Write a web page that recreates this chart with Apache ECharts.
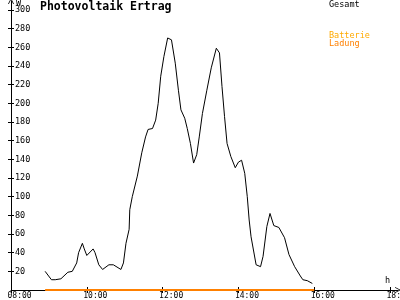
<!DOCTYPE html>
<html><head><meta charset="utf-8">
<script src="https://cdn.jsdelivr.net/npm/echarts@6/dist/echarts.min.js"></script>
<style>html,body{margin:0;padding:0;background:#fff}#c{width:400px;height:300px}</style>
</head><body><div id="c"></div>
<script>
// ---- data ----
const gesamtTimes = ['08:54','09:04','09:10','09:19','09:30','09:37','09:40','09:44','09:47','09:53',
  '09:56','10:00','10:03','10:10','10:13','10:19','10:25','10:35','10:42','10:54',
  '10:58','11:02','11:07','11:08','11:12','11:20','11:27','11:33','11:37','11:44',
  '11:49','11:53','11:57','12:02','12:08','12:10','12:14','12:20','12:25','12:29',
  '12:35','12:39','12:44','12:49','12:54','12:58','13:03','13:10','13:17','13:25',
  '13:30','13:34','13:38','13:42','13:48','13:55','14:00','14:05','14:10','14:14',
  '14:17','14:20','14:28','14:35','14:39','14:45','14:50','14:56','15:04','15:13',
  '15:20','15:29','15:38','15:42','15:49','15:57'];
const gesamtValues = [20,11,11,12,19,20,22,29,40,50,
  44,37,36,44,40,27,22,27,27,22,
  29,50,65,86,100,122,147,164,172,173,
  182,200,229,250,270,272,268,243,214,193,
  184,173,157,136,145,164,189,214,238,259,
  254,218,186,157,143,131,137,139,125,100,
  75,57,27,25,36,68,82,69,67,56,
  38,25,15,11,10,7];
const batterieTimes = ['08:54','16:00'];
const batterieValues = [0,0];
const xTickLabels = ['08:00','10:00','12:00','14:00','16:00','18:00'];
const yTickLabels = ['20','40','60','80','100','120','140','160','180','200','220','240','260','280','300'];

// ---- helpers ----
function toH(s){const p=s.split(':').map(Number);return p[0]+p[1]/60;}
const xTicks = xTickLabels.map(toH);
const yTicks = yTickLabels.map(Number);
const pairs = (t,v)=>t.map((s,i)=>[toH(s),v[i]]);
const FONT = '"DejaVu Sans Mono", monospace';
const XMIN = 8, XMAX = 18.21, YMIN = 0, YMAX = 309.6;
const chev = 'path://M0,10 L5,0 L10,10 L8.6,10 L5,2.8 L1.4,10 Z';

const chart = echarts.init(document.getElementById('c'), null, {renderer:'canvas'});
chart.setOption({
  animation:false,
  backgroundColor:'#fff',
  grid:[
    {left:11, right:2, top:1, bottom:10, containLabel:false, outerBoundsMode:'none'},
    {left:7.5, right:5.5, top:1, bottom:10, containLabel:false, outerBoundsMode:'none'}
  ],
  xAxis:[
    {type:'value', gridIndex:0, position:'bottom', min:XMIN, max:XMAX,
     axisLine:{show:true, lineStyle:{color:'#000',width:1}, symbol:['none',chev], symbolSize:[8,6]},
     axisTick:{show:true, inside:false, length:3, customValues:xTicks, lineStyle:{color:'#000'}},
     axisLabel:{show:false}, splitLine:{show:false}},
    {type:'value', gridIndex:0, position:'bottom', min:XMIN, max:XMAX,
     axisLine:{show:false},
     axisTick:{show:true, inside:true, length:3, customValues:xTicks, lineStyle:{color:'#000'}},
     axisLabel:{show:false}, splitLine:{show:false}},
    {type:'value', gridIndex:1, position:'bottom', min:XMIN, max:XMAX,
     axisLine:{show:false}, axisTick:{show:false}, splitLine:{show:false},
     axisLabel:{show:true, customValues:xTicks, margin:2, align:'left', color:'#000',
       fontFamily:FONT, fontSize:8, hideOverlap:false,
       formatter:(v)=>xTickLabels[xTicks.indexOf(v)] || ''}}
  ],
  yAxis:[
    {type:'value', gridIndex:0, position:'left', min:YMIN, max:YMAX,
     axisLine:{show:true, lineStyle:{color:'#000',width:1}, symbol:['none',chev], symbolSize:[8,6]},
     axisTick:{show:true, inside:false, length:3, customValues:yTicks, lineStyle:{color:'#000'}},
     axisLabel:{show:true, inside:true, margin:4, customValues:yTicks, color:'#000',
       fontFamily:FONT, fontSize:8.5,
       formatter:(v)=>yTickLabels[yTicks.indexOf(v)] || ''},
     splitLine:{show:false}},
    {type:'value', gridIndex:0, position:'left', min:YMIN, max:YMAX,
     axisLine:{show:false},
     axisTick:{show:true, inside:true, length:3, customValues:yTicks, lineStyle:{color:'#000'}},
     axisLabel:{show:false}, splitLine:{show:false}},
    {type:'value', gridIndex:1, position:'left', min:YMIN, max:YMAX, show:false}
  ],
  series:[
    {name:'Batterie Ladung', type:'line', xAxisIndex:0, yAxisIndex:0, clip:false,
     data:pairs(batterieTimes,batterieValues), showSymbol:false,
     lineStyle:{color:'#ff8000', width:2}, z:3},
    {name:'Gesamt', type:'line', xAxisIndex:0, yAxisIndex:0,
     data:pairs(gesamtTimes,gesamtValues), showSymbol:false,
     lineStyle:{color:'#000', width:1}, z:4}
  ],
  graphic:[
    {type:'text', left:40, top:1.5, style:{text:'Photovoltaik Ertrag', font:'bold 11.5px '+FONT, fill:'#000'}},
    {type:'text', left:16, top:-0.5, style:{text:'W', font:'8.5px '+FONT, fill:'#000'}},
    {type:'text', left:385, top:276.5, style:{text:'h', font:'8.5px '+FONT, fill:'#000'}},
    {type:'text', left:329, top:0, style:{text:'Gesamt', font:'8.5px '+FONT, fill:'#000'}},
    {type:'text', left:329, top:31, style:{text:'Batterie', font:'8.5px '+FONT, fill:'#ffaa00'}},
    {type:'text', left:329, top:39.5, style:{text:'Ladung', font:'8.5px '+FONT, fill:'#ff8000'}}
  ]
});
</script>
</body></html>
